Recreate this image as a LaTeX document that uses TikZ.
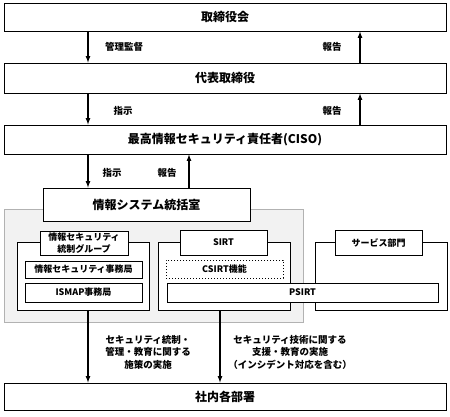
\documentclass[tikz,border=0pt]{standalone}
\usepackage{fontspec}
\setmainfont{Noto Sans CJK JP}
\usetikzlibrary{arrows}
\tikzstyle{wide}=[draw, fill=white, line width=1pt, minimum width=442pt, font=\bfseries\fontsize{12}{14}\selectfont]
\tikzstyle{part}=[draw, fill=white, line width=1pt, inner sep=0pt, font=\bfseries\fontsize{9}{12}\selectfont]
\tikzstyle{group}=[draw, fill=white, line width=1pt, inner sep=0pt]
\tikzstyle{lbl}=[font=\bfseries\fontsize{9.5}{12.5}\selectfont, align=center]
\tikzstyle{arr}=[-latex, line width=1.2pt]
\newcommand{\orgbox}{\node[wide]}
\newcommand{\subbox}{\node[part]}

\begin{document}
\begin{tikzpicture}[x=1pt, y=-1pt]
\useasboundingbox (0,0) rectangle (450,416);
% 背景
\fill[gray!10, draw=gray!60, line width=0.6pt] (4,209) rectangle (303,322);

\orgbox (kaigi) at (225,17) [minimum height=28pt] {取締役会};
\orgbox (daihyo) at (225,78) [minimum height=30pt] {代表取締役};
\orgbox (ciso) at (225,139.5) [minimum height=29pt] {最高情報セキュリティ責任者(CISO)};
\orgbox (shanai) at (225,396.5) [minimum height=27pt] {社内各部署};
\node[wide, minimum width=207pt, minimum height=33pt] (toukatsu) at (146.5,204.5) {情報システム統括室};

\node[group, minimum width=132pt, minimum height=68pt] (grp) at (83,276) {};
\node[group, minimum width=132pt, minimum height=68pt] (sirtgrp) at (224,276) {};
\node[group, minimum width=132pt, minimum height=68pt] (svcgrp) at (381,276) {};

\subbox (grplbl) at (84,243) [minimum width=88pt, minimum height=24pt, align=center] {情報セキュリティ\\統制グループ};
\subbox (jimu) at (83.5,269.5) [minimum width=117pt, minimum height=17pt] {情報セキュリティ事務局};
\subbox (ismap) at (83.5,292.5) [minimum width=117pt, minimum height=19pt] {ISMAP事務局};
\subbox (sirt) at (223.5,242.5) [minimum width=87pt, minimum height=25pt] {SIRT};
\subbox (csirt) at (224.5,269) [minimum width=117pt, minimum height=18pt, dotted] {CSIRT機能};
\subbox (psirt) at (302.5,292.5) [minimum width=271pt, minimum height=19pt] {PSIRT};
\subbox (svc) at (378.5,242.5) [minimum width=87pt, minimum height=25pt] {サービス部門};

\coordinate (l1) at (88,0);
\coordinate (r1) at (360,0);
\coordinate (l2) at (189,0);
\coordinate (l3) at (220,0);

\node[lbl] (kanri) at (124,47) {管理監督};
\node[lbl] (hou1) at (332,47) {報告};
\node[lbl] (shiji1) at (123,111) {指示};
\node[lbl] (hou2) at (332,111) {報告};
\node[lbl] (shiji2) at (112,173) {指示};
\node[lbl] (hou3) at (167,173) {報告};
\node[lbl] (sesaku) at (148,352) {セキュリティ統制・\\管理・教育に関する\\施策の実施};
\node[lbl] (shien) at (290,352) {セキュリティ技術に関する\\支援・教育の実施\\（インシデント対応を含む）};

\path[arr]
(kaigi.south -| l1) edge (daihyo.north -| l1)
(daihyo.north -| r1) edge (kaigi.south -| r1)
(daihyo.south -| l1) edge (ciso.north -| l1)
(ciso.north -| r1) edge (daihyo.south -| r1)
(ciso.south -| l1) edge (toukatsu.north -| l1)
(toukatsu.north -| l2) edge (ciso.south -| l2)
(grp.south -| l1) edge (shanai.north -| l1)
(sirtgrp.south -| l3) edge (shanai.north -| l3)
;
\end{tikzpicture}
\end{document}
